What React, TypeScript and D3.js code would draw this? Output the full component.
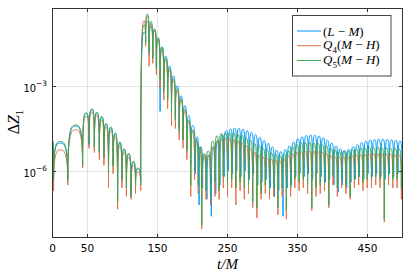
import React from 'react';
import * as d3 from 'd3';

// ---------- data (log10 of ΔZ1; alternating lobe peaks and dips) ----------
const xTicks = [0, 50, 150, 250, 350, 450];
const yTickExps = [-6, -3];
const seriesNames = ['(L − M)', 'Q4(M − H)', 'Q5(M − H)'];
const seriesColors = ['#009AFA', '#E36F47', '#3EA44E'];

const lmSeries = [
  0,-4.98, 1.5,-6.2, 11,-5.02, 21.8,-6.3, 33,-4.42, 43,-5.85, 48,-3.98, 52.2,-5.1, 56.2,-3.84, 59.8,-5.2,
  63.3,-3.96, 66.9,-5.35, 70.5,-4.11, 73.5,-5.55, 76.6,-4.36, 80,-6.2, 83.3,-4.48, 86.6,-5.85, 89.9,-4.7, 93,-7.0,
  96.1,-5.02, 99.2,-6.35, 102.3,-5.26, 105.6,-6.6, 108.9,-5.42, 112.2,-6.9, 115.5,-5.7, 118.6,-6.55, 121.8,-5.94, 126,-6.4,
  131,-1.1, 133,-1.4, 135.5,-0.72, 138,-1.9, 140.6,-0.9, 143.2,-2.05, 145.8,-1.05, 148.4,-2.3, 151,-1.35, 153.7,-3.9,
  156.3,-1.62, 159,-3.0, 161.7,-1.95, 164.5,-3.4, 167.2,-2.3, 170,-3.8, 172.7,-2.65, 175.5,-4.1, 178.2,-3.0, 181,-4.5,
  183.7,-3.35, 186.5,-4.9, 189.2,-3.7, 192,-5.2, 194.7,-4.05, 197.5,-5.8, 200.2,-4.4, 204.2,-6.1, 206.8,-4.8, 209.4,-7.2,
  211.9,-5.15, 214.4,-6.6, 217.5,-5.42, 220.6,-7.0, 223.7,-5.45, 226.9,-7.6, 230,-5.15, 233.2,-6.8, 236.2,-4.92, 239.2,-6.5,
  242.2,-4.72, 245.2,-6.2, 248.2,-4.58, 251.2,-6.0, 254.2,-4.52, 257.2,-6.1, 260.2,-4.49, 263.2,-6.0, 266.2,-4.5, 269.2,-6.2,
  272.2,-4.53, 275.2,-6.0, 278.2,-4.58, 281.2,-6.3, 284.2,-4.64, 287.2,-6.1, 290.2,-4.72, 293.2,-6.5, 296.2,-4.82, 299.2,-6.4,
  302.2,-4.93, 305.2,-6.3, 308.2,-5.03, 311.2,-6.6, 314.2,-5.15, 317.2,-6.9, 320.2,-5.27, 323.2,-6.7, 326.2,-5.32, 329.3,-7.6,
  332.3,-5.25, 335.3,-6.6, 338.3,-5.12, 341.4,-6.5, 344.4,-4.98, 347.4,-6.2, 350.4,-4.87, 353.5,-6.1, 356.5,-4.8, 359.5,-6.2,
  362.5,-4.75, 365.6,-6.1, 368.6,-4.73, 371.6,-6.3, 374.6,-4.74, 377.7,-6.1, 380.7,-4.77, 383.7,-6.2, 386.7,-4.83, 389.8,-6.4,
  392.8,-4.92, 395.9,-6.3, 398.9,-5.02, 402,-6.5, 405,-5.12, 408.1,-6.75, 411.1,-5.22, 414.2,-6.5, 417.2,-5.28, 420.3,-6.6,
  423.3,-5.24, 426.4,-6.4, 429.4,-5.15, 432.5,-6.3, 435.5,-5.07, 438.6,-6.2, 441.6,-5.0, 444.7,-6.3, 447.7,-4.95, 450.8,-6.1,
  453.8,-4.91, 456.9,-6.2, 459.9,-4.89, 463,-6.1, 466,-4.88, 469.1,-6.2, 472.1,-4.88, 475.2,-6.3, 478.2,-4.89, 481.3,-6.1,
  484.3,-4.9, 487.4,-6.2, 490.4,-4.92, 493.5,-6.1, 496.5,-4.95, 499.6,-6.3,
];

const q4Series = [
  0,-5.2, 1.5,-6.7, 11,-5.26, 21.8,-6.5, 33,-4.55, 43,-5.9, 48,-4.08, 52.2,-5.2, 56.2,-3.93, 59.8,-5.35,
  63.3,-4.05, 66.9,-5.6, 70.5,-4.2, 73.5,-5.8, 76.6,-4.45, 80,-6.6, 83.3,-4.58, 86.6,-6.1, 89.9,-4.8, 93,-7.35,
  96.1,-5.12, 99.2,-6.6, 102.3,-5.36, 105.6,-6.9, 108.9,-5.52, 112.2,-7.0, 115.5,-5.8, 118.6,-6.8, 121.8,-6.04, 126,-6.7,
  131,-0.7, 133,-1.6, 135.5,-0.54, 138,-2.3, 140.6,-0.8, 143.2,-2.2, 145.8,-1.05, 148.4,-2.6, 151,-1.38, 153.7,-3.1,
  156.3,-1.72, 159,-3.5, 161.7,-2.08, 164.5,-3.8, 167.2,-2.45, 170,-4.4, 172.7,-2.82, 175.5,-4.5, 178.2,-3.18, 181,-4.9,
  183.7,-3.52, 186.5,-5.2, 189.2,-3.9, 192,-5.6, 194.7,-4.28, 197.5,-6.9, 200.2,-4.62, 203,-6.3, 205.6,-4.98, 208.2,-6.8,
  210.7,-5.22, 213.2,-8.05, 216.3,-5.5, 219.4,-7.0, 222.5,-5.45, 225.7,-7.2, 228.8,-5.15, 232,-6.9, 235,-4.95, 238,-7.0,
  241,-4.88, 244,-6.6, 247,-4.86, 250,-6.9, 253,-4.88, 256,-6.6, 259,-4.9, 262,-7.2, 265,-4.95, 268,-6.7,
  271,-5.02, 274,-7.0, 277,-5.12, 280,-6.8, 283,-5.22, 286,-7.3, 289,-5.35, 292,-7.66, 295,-5.45, 298,-7.0,
  301,-5.52, 304,-6.8, 307,-5.56, 310,-7.0, 313,-5.6, 316,-6.9, 319,-5.64, 322,-7.55, 325,-5.65, 328.1,-6.9,
  331.1,-5.58, 334.1,-7.7, 337.1,-5.48, 340.2,-6.9, 343.2,-5.4, 346.2,-6.6, 349.2,-5.35, 352.3,-6.7, 355.3,-5.32, 358.3,-6.6,
  361.3,-5.31, 364.4,-6.8, 367.4,-5.3, 370.4,-7.4, 373.4,-5.31, 376.5,-6.9, 379.5,-5.32, 382.5,-6.8, 385.5,-5.35, 388.6,-6.7,
  391.6,-5.4, 394.7,-7.3, 397.7,-5.46, 400.8,-6.5, 403.8,-5.5, 406.9,-6.9, 409.9,-5.52, 413,-6.6, 416,-5.52, 419.1,-6.8,
  422.1,-5.5, 425.2,-7.0, 428.2,-5.47, 431.3,-6.6, 434.3,-5.45, 437.4,-6.5, 440.4,-5.43, 443.5,-6.7, 446.5,-5.42, 449.6,-6.6,
  452.6,-5.41, 455.7,-6.6, 458.7,-5.4, 461.8,-6.5, 464.8,-5.4, 467.9,-6.6, 470.9,-5.4, 474,-7.8, 477,-5.41, 480.1,-6.5,
  483.1,-5.42, 486.2,-6.6, 489.2,-5.43, 492.3,-6.6, 495.3,-5.44, 498.4,-7.0, 500,-5.8,
];

const q5Series = [
  0,-4.93, 1.5,-6.3, 11,-4.96, 21.8,-6.35, 33,-4.38, 43,-5.8, 48,-3.95, 52.2,-5.05, 56.2,-3.81, 59.8,-5.15,
  63.3,-3.93, 66.9,-5.3, 70.5,-4.08, 73.5,-5.5, 76.6,-4.32, 80,-6.1, 83.3,-4.45, 86.6,-5.8, 89.9,-4.66, 93,-7.1,
  96.1,-4.98, 99.2,-6.3, 102.3,-5.22, 105.6,-6.6, 108.9,-5.38, 112.2,-6.9, 115.5,-5.66, 118.6,-6.5, 121.8,-5.9, 126,-6.5,
  131,-0.85, 133,-1.5, 135.5,-0.46, 138,-1.8, 140.6,-0.72, 143.2,-2.0, 145.8,-0.98, 148.4,-2.4, 151,-1.3, 153.7,-2.8,
  156.3,-1.65, 159,-3.2, 161.7,-2.0, 164.5,-3.5, 167.2,-2.38, 170,-3.9, 172.7,-2.75, 175.5,-4.2, 178.2,-3.1, 181,-4.6,
  183.7,-3.45, 186.5,-4.9, 189.2,-3.82, 192,-5.3, 194.7,-4.2, 197.5,-6.5, 200.2,-4.55, 203,-6.0, 205.6,-4.9, 208.2,-6.5,
  210.7,-5.15, 213.2,-7.9, 216.3,-5.4, 219.4,-6.7, 222.5,-5.3, 225.7,-6.9, 228.8,-4.95, 232,-6.4, 235,-4.76, 238,-6.7,
  241,-4.68, 244,-6.2, 247,-4.65, 250,-6.5, 253,-4.67, 256,-6.3, 259,-4.66, 262,-6.6, 265,-4.71, 268,-6.4,
  271,-4.75, 274,-6.6, 277,-4.85, 280,-6.5, 283,-4.92, 286,-7.1, 289,-5.04, 292,-7.3, 295,-5.1, 298,-6.8,
  301,-5.21, 304,-6.5, 307,-5.27, 310,-6.7, 313,-5.37, 316,-6.6, 319,-5.42, 322,-7.3, 325,-5.48, 328.1,-6.6,
  331.1,-5.4, 334.1,-7.4, 337.1,-5.29, 340.2,-6.6, 343.2,-5.14, 346.2,-6.3, 349.2,-5.07, 352.3,-6.4, 355.3,-5.0, 358.3,-6.3,
  361.3,-5.01, 364.4,-6.5, 367.4,-4.99, 370.4,-7.3, 373.4,-5.02, 376.5,-6.6, 379.5,-5.03, 382.5,-6.5, 385.5,-5.08, 388.6,-6.4,
  391.6,-5.12, 394.7,-7.2, 397.7,-5.21, 400.8,-6.2, 403.8,-5.26, 406.9,-6.6, 409.9,-5.32, 413,-6.3, 416,-5.3, 419.1,-6.5,
  422.1,-5.3, 425.2,-6.9, 428.2,-5.25, 431.3,-6.3, 434.3,-5.24, 437.4,-6.2, 440.4,-5.2, 443.5,-6.4, 446.5,-5.2, 449.6,-6.3,
  452.6,-5.17, 455.7,-6.3, 458.7,-5.18, 461.8,-6.2, 464.8,-5.16, 467.9,-6.3, 470.9,-5.19, 474,-7.7, 477,-5.19, 480.1,-6.2,
  483.1,-5.21, 486.2,-6.3, 489.2,-5.2, 492.3,-6.3, 495.3,-5.23, 498.4,-6.6, 500,-5.6,
];

// custom arch curve: vertical at dips, flat at lobe tops
function curveArch(context: any) {
  let x0 = 0, y0 = 0, started = false;
  return {
    areaStart() {},
    areaEnd() {},
    lineStart() { started = false; },
    lineEnd() {},
    point(x: number, y: number) {
      x = +x; y = +y;
      if (!started) {
        context.moveTo(x, y);
        started = true;
      } else if (y < y0) {
        context.bezierCurveTo(x0, y, x0 + (x - x0) * 0.5, y, x, y);
      } else {
        context.bezierCurveTo(x0 + (x - x0) * 0.5, y0, x, y0, x, y);
      }
      x0 = x; y0 = y;
    },
  };
}

const toPairs = (a: number[]) => d3.range(0, a.length, 2).map((i) => [a[i], a[i + 1]]);

export default function App() {
  const W = 411, H = 274;
  const L = 52.5, R = 402.5, T = 8.5, B = 237.5;
  const x = d3.scaleLinear().domain([0, 500]).range([L, R]);
  const y = d3.scaleLog().domain([Math.pow(10, -8.35), Math.pow(10, -0.265)]).range([B, T]);
  const line = d3
    .line<number[]>()
    .x((d) => x(d[0]))
    .y((d) => y(Math.pow(10, d[1])))
    .curve(curveArch as any);

  const all = [lmSeries, q4Series, q5Series];
  const frame = '#333';
  const tickFont = 'DejaVu Sans, sans-serif';
  const mathFont = '"Liberation Serif", "DejaVu Serif", serif';
  const sp = '\u2005';

  const legX = 292.5, legY = 15.5, legW = 98.5, legH = 60.5;
  const legRows = [31, 45.7, 60.5];

  return (
    <svg width={W} height={H} style={{ position: 'absolute', left: 0, top: 0, background: '#fff' }}>
      <defs>
        <clipPath id="plotclip">
          <rect x={L} y={T} width={R - L} height={B - T} />
        </clipPath>
      </defs>
      <rect x={0} y={0} width={W} height={H} fill="#fff" />
      {/* grid */}
      {xTicks.map((t) => (
        <line key={'gx' + t} x1={x(t)} x2={x(t)} y1={T} y2={B} stroke="#000" strokeOpacity={0.11} strokeWidth={1} />
      ))}
      {yTickExps.map((e) => (
        <line key={'gy' + e} x1={L} x2={R} y1={Math.round(y(Math.pow(10, e))) + 0.5} y2={Math.round(y(Math.pow(10, e))) + 0.5} stroke="#000" strokeOpacity={0.11} strokeWidth={1} />
      ))}
      {/* series */}
      <g clipPath="url(#plotclip)">
        {all.map((s, i) => (
          <path key={i} d={line(toPairs(s)) || ''} fill="none" stroke={seriesColors[i]} strokeWidth={1} strokeLinejoin="round" />
        ))}
      </g>
      {/* frame */}
      <rect x={L} y={T} width={R - L} height={B - T} fill="none" stroke={frame} strokeWidth={1} />
      {xTicks.map((t) => (
        <g key={'tx' + t}>
          <line x1={x(t)} x2={x(t)} y1={B} y2={B - 3.5} stroke={frame} />
          <line x1={x(t)} x2={x(t)} y1={T} y2={T + 3.5} stroke={frame} />
          <text x={x(t)} y={251.5} textAnchor="middle" fontFamily={tickFont} fontSize={10.5} fill="#000">{t}</text>
        </g>
      ))}
      {yTickExps.map((e) => {
        const yy = Math.round(y(Math.pow(10, e))) + 0.5;
        return (
          <g key={'ty' + e}>
            <line x1={L} x2={L + 3.5} y1={yy} y2={yy} stroke={frame} />
            <line x1={R} x2={R - 3.5} y1={yy} y2={yy} stroke={frame} />
            <text x={47} y={yy + 5.5} textAnchor="end" fontFamily={tickFont} fontSize={9.8} fill="#000">
              <tspan>10</tspan>
              <tspan dy={-6.5} fontSize={7.5}>{'−' + Math.abs(e)}</tspan>
            </text>
          </g>
        );
      })}
      {/* axis labels */}
      <text x={227.5} y={268.5} textAnchor="middle" fontFamily={mathFont} fontStyle="italic" fontSize={15}>t/M</text>
      <text transform="translate(19,122) rotate(-90)" textAnchor="middle" fontFamily={mathFont} fontSize={16}>
        <tspan>Δ</tspan>
        <tspan fontStyle="italic">Z</tspan>
        <tspan fontSize={11} dy={4}>1</tspan>
      </text>
      {/* legend */}
      <rect x={legX} y={legY} width={legW} height={legH} fill="#fff" stroke="#444" strokeWidth={1} />
      {seriesNames.map((n, i) => {
        const ly = legRows[i];
        return (
          <g key={'lg' + i}>
            <line x1={297} x2={321} y1={ly} y2={ly} stroke={seriesColors[i]} strokeWidth={1} />
            {i === 0 ? (
              <text x={323} y={ly + 4.5} fontFamily={mathFont} fontSize={13} fill="#000">
                <tspan>(</tspan>
                <tspan fontStyle="italic">L</tspan>
                <tspan>{sp + '−' + sp}</tspan>
                <tspan fontStyle="italic">M</tspan>
                <tspan>)</tspan>
              </text>
            ) : (
              <text x={323} y={ly + 3.5} fontFamily={mathFont} fontSize={13} fill="#000">
                <tspan fontStyle="italic">Q</tspan>
                <tspan fontSize={9} dy={4}>{i === 1 ? '4' : '5'}</tspan>
                <tspan dy={-4}>(</tspan>
                <tspan fontStyle="italic">M</tspan>
                <tspan>{sp + '−' + sp}</tspan>
                <tspan fontStyle="italic">H</tspan>
                <tspan>)</tspan>
              </text>
            )}
          </g>
        );
      })}
    </svg>
  );
}
